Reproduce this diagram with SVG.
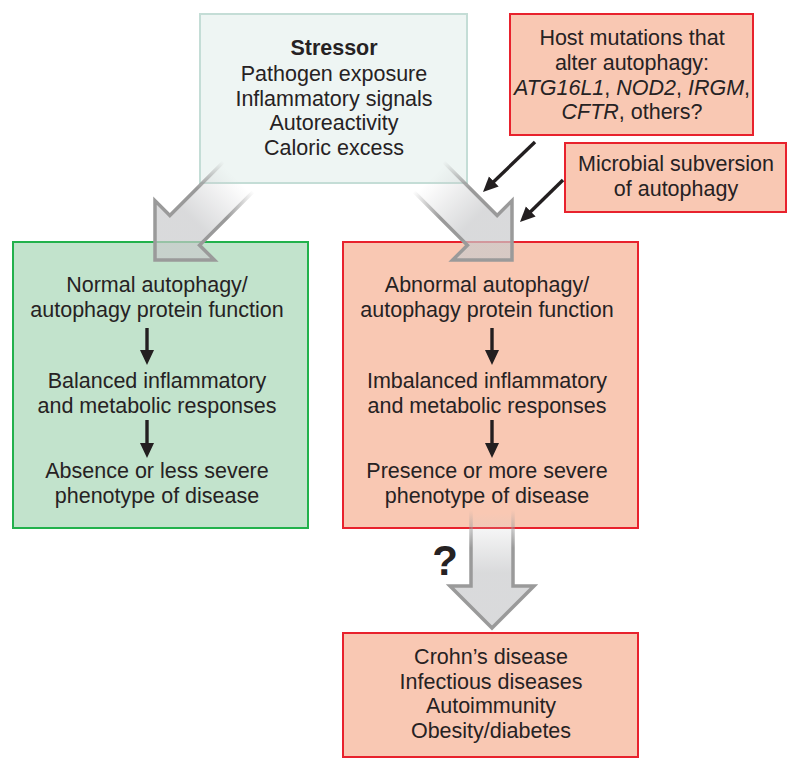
<svg xmlns="http://www.w3.org/2000/svg" width="800" height="772" viewBox="0 0 800 772">
<style>
  text { font-family: "Liberation Sans", Arial, sans-serif; font-size: 21.5px; fill: #262223; text-anchor: middle; }
  .b { font-weight: bold; }
  .i { font-style: italic; }
  .stress { fill: #eef5f3; stroke: #c4ddd6; stroke-width: 2; }
  .green { fill: #c2e3cc; stroke: #22b14c; stroke-width: 2; }
  .red { fill: #f9c8b3; stroke: #e8222d; stroke-width: 2; }
  .blk { stroke: #231f20; stroke-width: 3.4; fill: none; marker-end: url(#ah); }
  .big { fill: url(#gfill); stroke: url(#gstroke); stroke-width: 3.5; stroke-linejoin: miter; }
</style>
<defs>
  <marker id="ah" markerUnits="userSpaceOnUse" markerWidth="15" markerHeight="15" viewBox="0 0 15 15" refX="10" refY="7.5" orient="auto">
    <path d="M0,0.5 L15,7.5 L0,14.5 z" fill="#231f20"/>
  </marker>
  <linearGradient id="gfill" gradientUnits="userSpaceOnUse" x1="0" y1="-115" x2="0" y2="-55">
    <stop offset="0" stop-color="#c9cacc" stop-opacity="0"/>
    <stop offset="1" stop-color="#c9cacc" stop-opacity="0.7"/>
  </linearGradient>
  <linearGradient id="gstroke" gradientUnits="userSpaceOnUse" x1="0" y1="-118" x2="0" y2="-80">
    <stop offset="0" stop-color="#9a9a9a" stop-opacity="0"/>
    <stop offset="1" stop-color="#9a9a9a" stop-opacity="1"/>
  </linearGradient>
  <path id="bigarrow" d="M-21,-118 L-21,-42 L-42,-42 L0,0 L42,-42 L21,-42 L21,-118"/>
</defs>

<g id="stressor">
  <rect class="stress" x="200" y="14" width="267" height="169"/>
  <text x="334" y="55" class="b">Stressor</text>
  <text x="334" y="81">Pathogen exposure</text>
  <text x="334" y="106">Inflammatory signals</text>
  <text x="334" y="130">Autoreactivity</text>
  <text x="334" y="155">Caloric excess</text>
</g>

<g id="host-mutations">
  <rect class="red" x="510" y="14" width="243" height="121"/>
  <text x="632" y="45">Host mutations that</text>
  <text x="632" y="70">alter autophagy:</text>
  <text x="632" y="95"><tspan class="i">ATG16L1</tspan>, <tspan class="i">NOD2</tspan>, <tspan class="i">IRGM</tspan>,</text>
  <text x="632" y="119"><tspan class="i">CFTR</tspan>, others?</text>
</g>

<g id="microbial">
  <rect class="red" x="565" y="143" width="221" height="69"/>
  <text x="676" y="171">Microbial subversion</text>
  <text x="676" y="196">of autophagy</text>
</g>

<g id="normal">
  <rect class="green" x="13" y="242" width="295" height="286"/>
  <text x="157" y="292">Normal autophagy/</text>
  <text x="157" y="317">autophagy protein function</text>
  <text x="157" y="388">Balanced inflammatory</text>
  <text x="157" y="413">and metabolic responses</text>
  <text x="157" y="478">Absence or less severe</text>
  <text x="157" y="503">phenotype of disease</text>
</g>

<g id="abnormal">
  <rect class="red" x="343" y="242" width="295" height="286"/>
  <text x="487" y="292">Abnormal autophagy/</text>
  <text x="487" y="317">autophagy protein function</text>
  <text x="487" y="388">Imbalanced inflammatory</text>
  <text x="487" y="413">and metabolic responses</text>
  <text x="487" y="478">Presence or more severe</text>
  <text x="487" y="503">phenotype of disease</text>
</g>

<g id="diseases">
  <rect class="red" x="343" y="633" width="295" height="124"/>
  <text x="491" y="664">Crohn’s disease</text>
  <text x="491" y="689">Infectious diseases</text>
  <text x="491" y="713">Autoimmunity</text>
  <text x="491" y="738">Obesity/diabetes</text>
</g>

<g id="connectors">
  <use href="#bigarrow" class="big" transform="translate(155,260) rotate(45)"/>
  <use href="#bigarrow" class="big" transform="translate(512,260) rotate(-45)"/>
  <use href="#bigarrow" class="big" transform="translate(492,628)"/>
  <text x="445" y="575" class="b" style="font-size:42px">?</text>
  <line class="blk" x1="535" y1="142" x2="486.6" y2="188.5"/>
  <line class="blk" x1="563" y1="180" x2="523.6" y2="218.5"/>
  <line class="blk" x1="147" y1="328" x2="147" y2="360"/>
  <line class="blk" x1="147" y1="420" x2="147" y2="453"/>
  <line class="blk" x1="492" y1="328" x2="492" y2="360"/>
  <line class="blk" x1="492" y1="420" x2="492" y2="453"/>
</g>
</svg>
